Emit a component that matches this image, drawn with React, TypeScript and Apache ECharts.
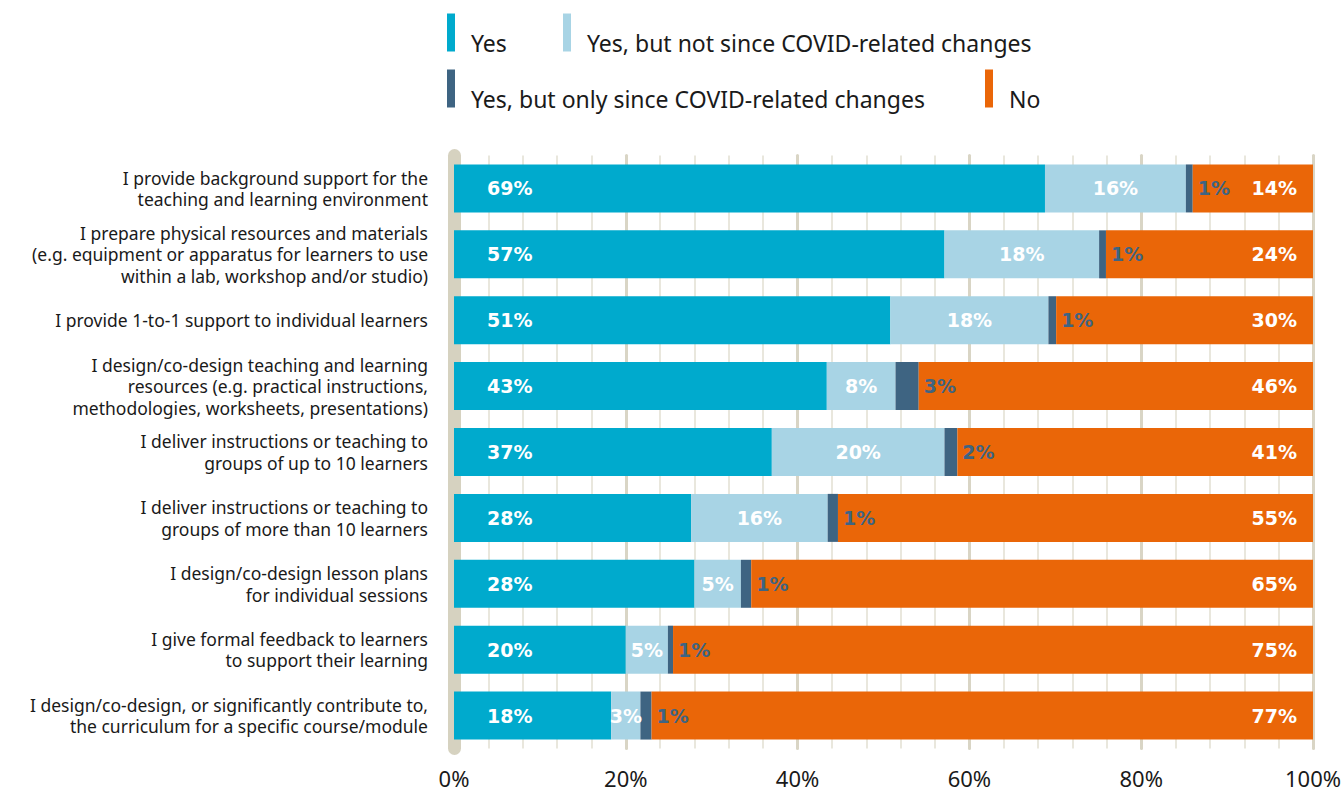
import React, { useEffect, useRef } from "react";
import * as echarts from "echarts";

const categories = [
  "I provide background support for the\nteaching and learning environment",
  "I prepare physical resources and materials\n(e.g. equipment or apparatus for learners to use\nwithin a lab, workshop and/or studio)",
  "I provide 1-to-1 support to individual learners",
  "I design/co-design teaching and learning\nresources (e.g. practical instructions,\nmethodologies, worksheets, presentations)",
  "I deliver instructions or teaching to\ngroups of up to 10 learners",
  "I deliver instructions or teaching to\ngroups of more than 10 learners",
  "I design/co-design lesson plans\nfor individual sessions",
  "I give formal feedback to learners\nto support their learning",
  "I design/co-design, or significantly contribute to,\nthe curriculum for a specific course/module",
];

const seriesNames = [
  "Yes",
  "Yes, but not since COVID-related changes",
  "Yes, but only since COVID-related changes",
  "No",
];

const yesValues = [68.8, 57.1, 50.8, 43.4, 37.0, 27.6, 28.0, 20.0, 18.3];
const yesNotSinceValues = [16.4, 18.0, 18.4, 8.0, 20.1, 15.9, 5.4, 4.9, 3.4];
const yesOnlySinceValues = [0.8, 0.8, 0.9, 2.7, 1.5, 1.2, 1.2, 0.6, 1.3];
const noValues = [14.0, 24.1, 29.9, 45.9, 41.4, 55.3, 65.4, 74.5, 77.0];

const xTickValues = [0, 20, 40, 60, 80, 100];

const colors = ["#00aacd", "#a8d4e5", "#3e6482", "#ea6608"];
const FONT = "Noto Sans";
const BOLD_FONT = "DejaVu Sans";

export default function App() {
  const ref = useRef<HTMLDivElement>(null);

  useEffect(() => {
    if (!ref.current) return;
    const chart = echarts.init(ref.current, undefined, { renderer: "svg" });
    const fmt = (p: any) => Math.round(p.value) + "%";
    const labelBase = {
      show: true,
      fontFamily: BOLD_FONT,
      fontWeight: "bold" as const,
      fontSize: 19,
      formatter: fmt,
    };
    const legendText = {
      fontFamily: FONT,
      fontSize: 23,
      lineHeight: 20,
      color: "#1a1a1a",
      padding: [0, 0, 0, 11],
    };
    const legendPos = [
      { left: 447, top: 11 },
      { left: 563, top: 11 },
      { left: 447, top: 67 },
      { left: 985, top: 67 },
    ];
    chart.setOption({
      animation: false,
      legend: seriesNames.map((name, i) => ({
        data: [name],
        left: legendPos[i].left,
        top: legendPos[i].top,
        padding: 0,
        icon: "rect",
        itemWidth: 8,
        itemHeight: 38,
        formatter: (n: string) => "\n" + n,
        textStyle: legendText,
        selectedMode: false,
      })),
      grid: { left: 454, right: 28, top: 155.5, bottom: 42.5 },
      xAxis: {
        type: "value",
        min: 0,
        max: 100,
        interval: 20,
        axisLine: { show: false },
        axisTick: { show: false },
        axisLabel: {
          fontFamily: FONT,
          fontSize: 22,
          color: "#1a1a1a",
          margin: 18,
          formatter: (v: number) => (xTickValues.includes(v) ? v + "%" : ""),
        },
        splitLine: { show: true, lineStyle: { color: "#d9d5c5", width: 3, cap: "round" } },
        minorTick: { show: false, splitNumber: 5 },
        minorSplitLine: { show: true, lineStyle: { color: "#e2dfd2", width: 1.5 } },
      },
      yAxis: {
        type: "category",
        inverse: true,
        data: categories,
        axisLine: { show: true, lineStyle: { color: "#d6d2c0", width: 13, cap: "round" } },
        axisTick: { show: false },
        axisLabel: {
          fontFamily: FONT,
          fontSize: 17.5,
          lineHeight: 21.5,
          color: "#1a1a1a",
          margin: 26,
          align: "right",
        },
      },
      series: [
        {
          name: seriesNames[0],
          type: "bar",
          stack: "total",
          barWidth: 48,
          data: yesValues,
          itemStyle: { color: colors[0] },
          label: { ...labelBase, color: "#ffffff", position: [33, "50%"], align: "left", verticalAlign: "middle" },
        },
        {
          name: seriesNames[1],
          type: "bar",
          stack: "total",
          barWidth: 48,
          data: yesNotSinceValues,
          itemStyle: { color: colors[1] },
          label: { ...labelBase, color: "#ffffff", position: "inside" },
        },
        {
          name: seriesNames[2],
          type: "bar",
          stack: "total",
          barWidth: 48,
          data: yesOnlySinceValues,
          itemStyle: { color: colors[2] },
          label: { ...labelBase, color: colors[2], position: "right", distance: 5 },
        },
        {
          name: seriesNames[3],
          type: "bar",
          stack: "total",
          barWidth: 48,
          data: noValues,
          itemStyle: { color: colors[3] },
          label: { ...labelBase, color: "#ffffff", position: "insideRight", distance: 16 },
        },
      ],
    });
    return () => chart.dispose();
  }, []);

  return (
    <div
      ref={ref}
      style={{ position: "fixed", left: 0, top: 0, width: 1344, height: 791, background: "#ffffff" }}
    />
  );
}
